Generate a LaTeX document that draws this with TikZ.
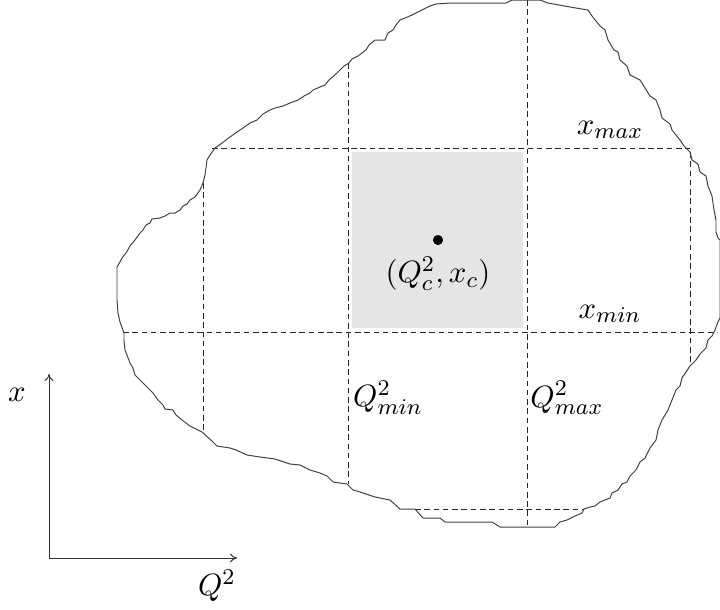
\documentclass[tikz,border=0pt]{standalone}
\usetikzlibrary{arrows.meta}

\begin{document}
\begin{tikzpicture}[x=0.0125cm,y=-0.0125cm,
    font=\fontsize{11}{13}\selectfont,
    gridline/.style={black!85,line width=0.35pt,dash pattern=on 2pt off 1.3pt},
    region/.style={black!75,line width=0.35pt,line join=round},
    axis/.style={black!80,line width=0.35pt,-{To[length=2.5pt,width=3.2pt]}}]
    \useasboundingbox (0,0) rectangle (720,609);

    % Cell round the central point
    \fill[gray!20] (352,152) rectangle (523,328);

    % Grid
    \draw[gridline] (212,148) -- (690,148);
    \draw[gridline] (123,332) -- (717,332);
    \draw[gridline] (415,509) -- (584,509);
    \foreach \x/\ya/\yb in {203/183/432, 348/63/484, 527/0/527, 690/152/366} {
        \draw[gridline] (\x,\ya) -- (\x,\yb);
    }

    % Region boundary
    \draw[region]
        (436,4) -- (450,3) -- (506,3) -- (512,0) -- (540,0) -- (548,3) -- (570,7) -- (588,10)
        -- (592,16) -- (600,26) -- (605,30) -- (608,40) -- (614,50) -- (618,52) -- (620,60)
        -- (627,66) -- (630,75) -- (640,80) -- (645,88) -- (650,96) -- (656,100) -- (660,110)
        -- (662,118) -- (670,124) -- (672,130) -- (680,140) -- (684,146) -- (690,152)
        -- (692,160) -- (698,164) -- (700,172) -- (706,176) -- (708,186) -- (712,196)
        -- (714,210) -- (716,220) -- (716,232) -- (718,238) -- (720,240) -- (720,318)
        -- (718,322) -- (715,330) -- (712,336) -- (708,340) -- (706,348) -- (700,354)
        -- (696,360) -- (690,366) -- (686,372) -- (682,378) -- (680,386) -- (676,390)
        -- (672,400) -- (668,410) -- (662,420) -- (658,430) -- (656,440) -- (650,448)
        -- (645,458) -- (640,462) -- (636,470) -- (630,476) -- (627,482) -- (622,484)
        -- (618,490) -- (612,493) -- (610,498) -- (600,502) -- (595,506) -- (590,507)
        -- (584,509) -- (582,513) -- (575,516) -- (567,520) -- (560,522) -- (555,527)
        -- (500,527) -- (492,522) -- (445,522) -- (440,518) -- (423,518) -- (415,509)
        -- (400,509) -- (390,500) -- (375,497) -- (360,492) -- (353,490) -- (347,484)
        -- (333,482) -- (327,476) -- (320,473) -- (310,470) -- (300,465) -- (290,464)
        -- (275,459) -- (260,457) -- (247,455) -- (236,450) -- (230,448) -- (217,446)
        -- (212,441) -- (202,432) -- (190,426) -- (182,420) -- (176,415) -- (173,410)
        -- (165,409) -- (163,405) -- (158,400) -- (153,393) -- (146,386) -- (140,380)
        -- (135,375) -- (133,368) -- (130,363) -- (127,355) -- (125,350) -- (124,340)
        -- (124,333) -- (120,322) -- (118,313) -- (117,300) -- (117,267) -- (120,262)
        -- (122,258) -- (126,253) -- (130,246) -- (135,240) -- (140,233) -- (143,230)
        -- (146,225) -- (150,223) -- (152,219) -- (160,218) -- (165,216) -- (170,213)
        -- (175,213) -- (180,210) -- (183,206) -- (187,204) -- (190,200) -- (195,197)
        -- (200,190) -- (203,183) -- (205,175) -- (206,168) -- (207,160) -- (210,155)
        -- (215,148) -- (222,143) -- (230,137) -- (237,132) -- (243,128) -- (250,123)
        -- (257,120) -- (263,114) -- (270,110) -- (275,108) -- (283,106) -- (290,103)
        -- (298,100) -- (304,96) -- (310,93) -- (313,90) -- (320,87) -- (325,85)
        -- (329,80) -- (337,73) -- (344,66) -- (349,63) -- (352,59) -- (358,56)
        -- (366,50) -- (369,45) -- (375,40) -- (385,40) -- (388,33) -- (393,30)
        -- (396,25) -- (400,20) -- (405,18) -- (412,15) -- (418,12) -- (430,6) -- cycle;

    % Central point and limits
    \fill (438,240) circle (1.8pt);
    \node (centre) at (438,274) {$(Q^2_c,x_c)$};
    \node (xmax) at (610,130) {$x_{max}$};
    \node (xmin) at (610,314) {$x_{min}$};
    \node (qmin) at (388,398) {$Q^2_{min}$};
    \node (qmax) at (567,398) {$Q^2_{max}$};

    % Axes
    \coordinate (origin) at (49,558);
    \coordinate (xtop) at (49,374);
    \coordinate (qend) at (237,558);
    \draw[axis] (origin) -- (xtop);
    \draw[axis] (origin) -- (qend);
    \node (xlabel) at (17,395) {$x$};
    \node (qlabel) at (217,586) {$Q^2$};
\end{tikzpicture}
\end{document}
